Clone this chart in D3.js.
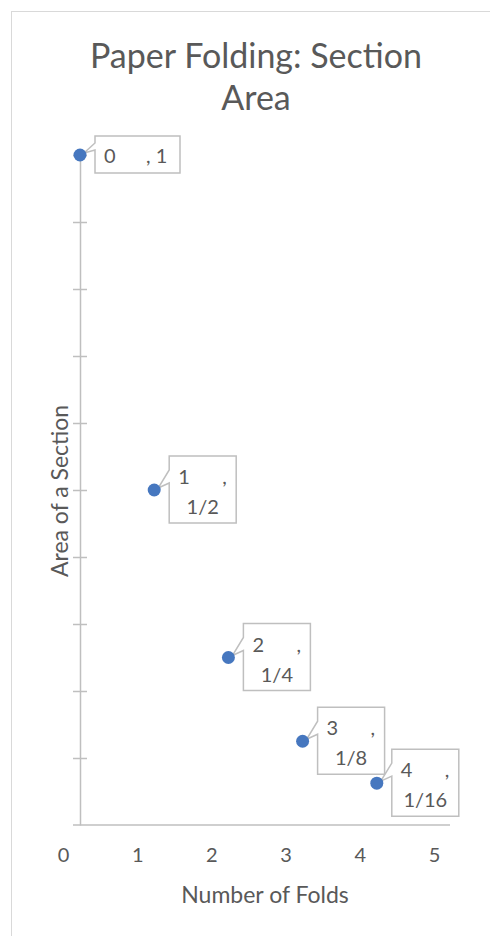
<!DOCTYPE html>
<html>
<head>
<meta charset="utf-8">
<script src="https://cdn.jsdelivr.net/npm/d3@7"></script>
<style>
  body { margin: 0; background: #fff; }
  svg text { font-family: Lato, "Open Sans", sans-serif; fill: #595959; }
</style>
</head>
<body>
<svg id="chart" width="490" height="936"></svg>
<script>
// data
var folds = [0, 1, 2, 3, 4];
var areas = [1, 0.5, 0.25, 0.125, 0.0625];
var foldLabels = ["0", "1", "2", "3", "4"];
var areaLabels = ["1", "1/2", "1/4", "1/8", "1/16"];
var xTicks = [0, 1, 2, 3, 4, 5];
var yTicks = [0, 0.1, 0.2, 0.3, 0.4, 0.5, 0.6, 0.7, 0.8, 0.9, 1];

var svg = d3.select("#chart");

// outer chart border (cropped at right and bottom)
svg.append("rect")
  .attr("x", 11.5).attr("y", 11.5)
  .attr("width", 500).attr("height", 950)
  .attr("fill", "none").attr("stroke", "#d9d9d9");

var x = d3.scaleLinear().domain([0, 5]).range([80, 451]);
var y = d3.scaleLinear().domain([0, 1]).range([825, 155]);

// title
var title = svg.append("text")
  .attr("text-anchor", "middle")
  .attr("font-size", 34);
title.append("tspan").attr("x", 256).attr("y", 68).text("Paper Folding: Section");
title.append("tspan").attr("x", 256).attr("y", 110).text("Area");

// y axis (no labels, cross ticks)
var yAxis = svg.append("g")
  .attr("transform", "translate(" + x(0) + ",0)")
  .call(d3.axisLeft(y).tickValues(yTicks).tickFormat("").tickSizeOuter(0));
yAxis.select(".domain").attr("stroke", "#bfbfbf").attr("stroke-width", 1.5);
yAxis.selectAll(".tick line").attr("x1", -7).attr("x2", 7)
  .attr("stroke", "#bfbfbf").attr("stroke-width", 1.5);
yAxis.selectAll(".tick").filter(function(d) { return d === 0; }).remove();

// x axis
var xAxis = svg.append("g")
  .attr("transform", "translate(0," + y(0) + ")")
  .call(d3.axisBottom(x).tickValues(xTicks).tickFormat(d3.format("d")).tickSize(0));
xAxis.select(".domain").attr("d", "M73,0H450").attr("stroke", "#bfbfbf").attr("stroke-width", 1.5);
xAxis.selectAll(".tick text")
  .attr("x", -17).attr("y", 23)
  .attr("font-size", 20)
  .attr("font-family", "Lato, sans-serif")
  .attr("fill", "#595959");

// axis titles
svg.append("text")
  .attr("x", 265).attr("y", 903)
  .attr("text-anchor", "middle").attr("font-size", 23)
  .text("Number of Folds");
svg.append("text")
  .attr("transform", "translate(68,491) rotate(-90)")
  .attr("text-anchor", "middle").attr("font-size", 23)
  .text("Area of a Section");

// callout data labels
folds.forEach(function(f, i) {
  var px = x(f), py = y(areas[i]);
  var single = i === 0;
  var bw = single ? 85 : 67, bh = single ? 37 : 67;
  var bx = px + 15, by = single ? py - 19 : py - 34;
  var w1 = single ? by + 7 : by + 14, w2 = single ? by + 14 : by + 27;
  var tipX = px + 4, tipY = py - 2;
  var path = "M" + bx + "," + by + "H" + (bx + bw) + "V" + (by + bh) + "H" + bx +
    "V" + w2 + "L" + tipX + "," + tipY + "L" + bx + "," + w1 + "Z";
  var g = svg.append("g");
  g.append("path").attr("d", path)
    .attr("fill", "#fff").attr("stroke", "#bfbfbf").attr("stroke-width", 1.5);
  if (single) {
    g.append("text").attr("x", bx + 9).attr("y", by + 27).attr("font-size", 20).text(foldLabels[i]);
    g.append("text").attr("x", bx + 51).attr("y", by + 27).attr("font-size", 20).text(", " + areaLabels[i]);
  } else {
    g.append("text").attr("x", bx + 9).attr("y", by + 28).attr("font-size", 20).text(foldLabels[i]);
    g.append("text").attr("x", bx + 53).attr("y", by + 28).attr("font-size", 20).text(",");
    g.append("text").attr("x", bx + bw / 2).attr("y", by + 58).attr("text-anchor", "middle")
      .attr("font-size", 20).text(areaLabels[i]);
  }
});

// points
svg.append("g").selectAll("circle")
  .data(folds)
  .join("circle")
  .attr("cx", function(d) { return x(d); })
  .attr("cy", function(d, i) { return y(areas[i]); })
  .attr("r", 6.5)
  .attr("fill", "#4677bf");
</script>
</body>
</html>
